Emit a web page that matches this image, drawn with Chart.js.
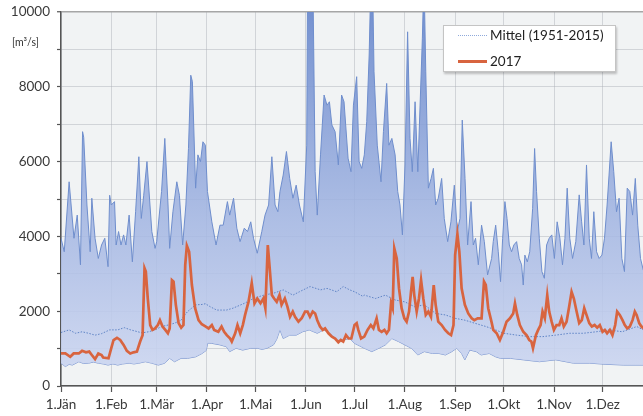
<!DOCTYPE html>
<html lang="de">
<head>
<meta charset="utf-8">
<title>Abfluss 2017</title>
<script src="https://cdn.jsdelivr.net/npm/chart.js@4"></script>
<style>
  html, body { margin: 0; padding: 0; background: #fff; overflow: hidden; }
  #wrap { position: relative; width: 660px; height: 416px; }
  #unit { position: absolute; left: 12px; top: 36px; font: 10.5px Lato, sans-serif; color: #333; }
  #legend { position: absolute; left: 443px; top: 25px; width: 171px; height: 45px; background: #fff;
            border: 1px solid #c4c4c4; box-shadow: 1px 2px 2px rgba(0,0,0,0.22);
            font: 13.5px Lato, sans-serif; color: #222; }
  .row { position: absolute; left: 14px; height: 18px; display: flex; align-items: center; }
  .sample { width: 29px; margin-right: 3px; }
</style>
</head>
<body>
<div id="wrap">
  <canvas id="c" width="660" height="416"></canvas>
  <div id="unit">[m³/s]</div>
  <div id="legend">
    <div class="row" style="top:0px"><span class="sample" style="border-top:1.5px dotted #8fa9db"></span>Mittel (1951-2015)</div>
    <div class="row" style="top:26px"><span class="sample" style="border-top:3px solid #d8643f"></span>2017</div>
  </div>
</div>
<script>
// Tagesabfluss in m³/s; x = Tag des Jahres (0 = 1. Jänner)
const monthStarts = [0, 31, 59, 90, 120, 151, 181, 212, 243, 273, 304, 334];
const monthLabels = ['1.Jän', '1.Feb', '1.Mär', '1.Apr', '1.Mai', '1.Jun', '1.Jul', '1.Aug', '1.Sep', '1.Okt', '1.Nov', '1.Dez'];

// Höchstwerte 1951-2015
const flowMax = [
  [0,3950],[2,3590],[5,5460],[8,3950],[10,4570],[12,3240],[13.3,6800],[14,6650],[16,4840],[18,3590],[19,5020],
  [21,3950],[23,3410],[25,3770],[27,3950],[29,3190],[30,5100],[31,4840],[33,4930],[34,3770],[35.5,4130],[37,3770],
  [38.6,4040],[40,3770],[42,4570],[44,3320],[46,4660],[48,6130],[49.5,4480],[51,5100],[53,6000],[56,4130],[58,3680],
  [59,3860],[62,5200],[64,6620],[66,4840],[67,3680],[69,4660],[71.4,5460],[73,5100],[75,3770],[77,4840],[78.6,6350],
  [80,8310],[81,8140],[83,5290],[84.4,6180],[86,6000],[87.5,6530],[89,6440],[90.3,5200],[93,4390],[95.6,3770],
  [98,4300],[100,4300],[102.6,4930],[104,4570],[106.4,5020],[108.4,4220],[110.4,3860],[113,4220],[115,4130],
  [117,4390],[118.7,3950],[121,3550],[123.8,4130],[125.8,4570],[128,4840],[130,6130],[132,4840],[133.7,4660],
  [135,5200],[137,5640],[139,6270],[141,5550],[143,5020],[145,5370],[147,4840],[149.4,4390],[151.5,6440],
  [152,10500],[153,14000],[154,15000],[155,12000],[156.7,5730],[158,4570],[160,6180],[162.2,7780],[164,7510],
  [165.5,7600],[167,6980],[169,6800],[171,5910],[173,7780],[174.5,7600],[177,6090],[178.8,5730],[180.3,7510],
  [182.3,8270],[183.8,6000],[185.4,5820],[187,6180],[188.5,7070],[190,8850],[191,10800],[192,11200],[193,8400],
  [195,6440],[197.3,5460],[198.8,6800],[200.8,8090],[202.2,6440],[204,6620],[206,6180],[207.6,5200],[209,4840],
  [210.5,4040],[212.1,5910],[213.7,9470],[215.2,6620],[216.6,5730],[218.3,7600],[220,5730],[221.4,7510],
  [222.8,9300],[223.8,11000],[224.9,8400],[226.5,5290],[228.2,5550],[229.6,5820],[231,4840],[232.6,5020],
  [234.7,5550],[236.3,4480],[238.4,3860],[240.4,4390],[242.5,5370],[244.3,4130],[246,4480],[247.4,7110],
  [249.1,5550],[250.7,3770],[252.8,4930],[254.2,3770],[255.6,3950],[257.3,3240],[259.3,4300],[261,3860],
  [263,2970],[265.5,3410],[266.5,3860],[268,4300],[269.6,3590],[271,2790],[272.3,3950],[273.7,4930],[275,4480],
  [276.4,3770],[277.8,3590],[279.2,3770],[280.9,3860],[282.5,3410],[284,3240],[285,2700],[286,3500],[287.5,3320],
  [289,3590],[290.8,4750],[292,6350],[293.2,5200],[294.9,3950],[296.5,3060],[298,2880],[299.4,3770],[301,3950],
  [302.6,4040],[304.2,3410],[305.9,4390],[307.6,3950],[309.2,3240],[310.7,3950],[312.1,5290],[313.7,3950],
  [315.4,3410],[317.4,3860],[319.5,5110],[321,4390],[322.4,3770],[324,5910],[325.7,3950],[327.1,3410],
  [328.5,4660],[330.2,3590],[331.8,3410],[333.5,3500],[335.1,3950],[336.7,4840],[337.9,5640],[339.2,6530],
  [340.8,5730],[342.5,4660],[344.1,5020],[345.8,3410],[347.4,3060],[349.1,5290],[350.7,5200],[352.4,4570],
  [354.1,5550],[355.6,4300],[357.3,3410],[359,3100]
];

// Tiefstwerte 1951-2015
const flowMin = [
  [0,610],[2.7,520],[5,580],[7,560],[11,650],[14,600],[17,610],[20,640],[23,610],[26,590],[29,560],[32,590],
  [35,560],[38,590],[42,610],[45,590],[48,610],[52,650],[56,610],[60,560],[64,610],[67,740],[70,650],[74,740],
  [78,740],[83,780],[87,870],[89.5,950],[90.5,1150],[93,1140],[98,1100],[102,1050],[104,920],[108,1010],
  [112,960],[117,1010],[121,1010],[124,980],[127,1010],[131,1100],[133,1250],[135,1500],[137,1270],[141,1360],
  [145,1360],[149,1450],[153,1500],[158,1410],[162,1500],[166,1410],[170,1230],[174,1230],[178,1270],[181,1140],
  [187,1010],[191.6,920],[196,1010],[200,1100],[204,1270],[208,1190],[212,1100],[216,1010],[220,830],[224,920],
  [229,870],[233,870],[237,830],[241,920],[244,1010],[247,870],[249,700],[252,960],[256,920],[259,830],
  [264,870],[268,780],[271,740],[277,740],[285,700],[295,650],[305,700],[316,610],[326,610],[336,580],
  [347,560],[359,560]
];

// Mittel 1951-2015
const flowMean = [
  [0,1430],[5,1500],[9,1410],[13,1450],[17,1410],[21,1360],[25,1400],[30,1500],[35,1500],[39,1560],[43,1500],
  [50,1420],[54,1450],[58,1500],[62,1590],[66,1630],[70,1680],[74,1760],[78,1990],[83,2170],[87,2180],[89,2200],
  [92,2120],[96,2030],[102,2030],[106,2080],[113,2210],[118.7,2340],[125,2430],[131,2480],[137,2570],[143,2430],
  [147,2520],[153.6,2660],[160,2570],[164,2610],[170,2520],[174,2660],[178,2570],[181,2520],[186,2400],
  [187,2430],[194,2340],[200,2430],[206,2300],[212,2250],[218,2120],[224,2170],[231,1940],[237,1900],
  [243,1810],[249,1760],[255,1680],[262,1590],[268,1500],[273,1410],[281,1360],[289,1320],[297,1320],
  [305,1360],[313.7,1410],[322,1410],[330,1450],[338,1500],[346,1450],[355,1590],[359,1500]
];

// Abfluss 2017
const flow2017 = [
  [0,870],[2.7,870],[5.7,780],[7.8,870],[11,870],[13,940],[15.4,900],[17.4,920],[19,830],[21,720],[23,870],
  [25,830],[26,760],[29.3,740],[31,1010],[32.4,1230],[34.5,1290],[36.5,1230],[38.6,1100],[40.6,940],[42.7,870],
  [44.7,900],[46.8,920],[48.8,1190],[50.3,1360],[51.5,3150],[52.3,3060],[53.5,2340],[55,1630],[56.4,1500],
  [58,1540],[59.7,1630],[61,1760],[62.6,1590],[64.3,1500],[65.9,1410],[67,1540],[68.4,2830],[69.4,2790],
  [70.8,2170],[72.5,1680],[74.1,1560],[75.5,1630],[76.6,3240],[77.6,3750],[79,3590],[80.7,2700],[82.7,2080],
  [84.8,1760],[86.8,1650],[88.8,1600],[91,1540],[93,1630],[94.4,1500],[97,1450],[99,1590],[100.6,1450],
  [102.2,1360],[104.3,1270],[105.3,1190],[107.4,1410],[108.8,1630],[110.5,1410],[112.1,1630],[113.5,1900],
  [115.6,2250],[117.6,2750],[119.3,2210],[121,2340],[123,2210],[124.8,2340],[126,2080],[127.5,3770],
  [128.5,3240],[130,2430],[131.4,2340],[133,2250],[134.7,2430],[136,2170],[138,2340],[139.6,2120],[141.2,1850],
  [142.9,1990],[144.3,1850],[146.4,1720],[148.4,1810],[150.5,1990],[152,1990],[153.5,1850],[155.2,1990],
  [156.7,1940],[158,1760],[159.7,1590],[161.4,1500],[162.8,1540],[164.9,1410],[167,1320],[169,1270],[171,1170],
  [172.5,1230],[174,1190],[175.7,1360],[177.4,1270],[179,1270],[181,1630],[182.3,1680],[183.3,1500],[185,1270],
  [187,1320],[189,1500],[191,1630],[192.6,1540],[194.6,1810],[196,1500],[197.7,1450],[199.4,1500],[200.8,1410],
  [202.2,1500],[203.5,2210],[204.5,2080],[205.5,3680],[207,3410],[208.4,2610],[210,2080],[211.7,1810],
  [213.1,1720],[214.6,1990],[215.8,2520],[216.8,2920],[217.8,2430],[219.3,1990],[220.7,2340],[222,2830],
  [223.4,2340],[224.9,1900],[226.5,1990],[228.1,1850],[229.8,2700],[231,2170],[232.6,1720],[234.7,1630],
  [236.8,1500],[238.8,1410],[240.5,1360],[242,1630],[243,3500],[244.4,4060],[245.6,3590],[247,2610],[249,2170],
  [251.1,1940],[253.2,1810],[254.8,1760],[256.9,1810],[259.3,1810],[260.8,2790],[261.9,2700],[263.4,2080],
  [265.5,1700],[266.5,1500],[268.6,1410],[270.6,1230],[272.7,1450],[274.7,1720],[276.8,1810],[278.8,1940],
  [279.9,2210],[281.3,1900],[282.9,1630],[285,1450],[287,1360],[288.7,1230],[290,1190],[291,1010],[292.8,1360],
  [294.2,1500],[295.7,1630],[296.9,1990],[298.3,1810],[299.8,2430],[301,1990],[302.5,1720],[303.9,1500],
  [305.5,1630],[307.2,1630],[308.6,1810],[310,1590],[311.7,1720],[313.3,2120],[314.8,2520],[316.2,2340],
  [317.9,1990],[319.5,1680],[321.1,1760],[322.6,2080],[324,1900],[325.7,1680],[327.3,1590],[329,1630],
  [330.6,1560],[332.2,1630],[333.9,1450],[335.3,1500],[336.7,1410],[338.4,1500],[340,1360],[341.7,1630],
  [342.9,1990],[344.5,1900],[346.2,1760],[347.6,1630],[349.1,1540],[350.7,1590],[352.4,1760],[353.8,1990],
  [354.9,1900],[356.5,1680],[357.9,1590],[359,1540]
];

const yTicks = [0, 2000, 4000, 6000, 8000, 10000];

const toXY = arr => arr.map(([x, y]) => ({ x, y }));

Chart.defaults.font.family = 'Lato, sans-serif';
Chart.defaults.font.size = 13.5;
Chart.defaults.color = '#3a3a3a';

// Plot background
const plotBackground = {
  id: 'plotBackground',
  beforeDraw(chart) {
    const { ctx, chartArea: a } = chart;
    ctx.save();
    ctx.fillStyle = '#f1f3f4';
    ctx.fillRect(a.left, a.top, a.right - a.left, a.bottom - a.top);
    ctx.restore();
  }
};

function bandGradient(context) {
  const { ctx, chartArea } = context.chart;
  if (!chartArea) return 'rgba(150,170,220,0.8)';
  const g = ctx.createLinearGradient(0, chartArea.top, 0, chartArea.bottom);
  g.addColorStop(0, 'rgba(104,135,204,0.9)');
  g.addColorStop(0.55, 'rgba(162,181,226,0.86)');
  g.addColorStop(1, 'rgba(208,217,242,0.9)');
  return g;
}

new Chart(document.getElementById('c'), {
  type: 'line',
  data: {
    datasets: [
      { label: '2017', data: toXY(flow2017), borderColor: '#d8643f', borderWidth: 2.7, pointRadius: 0, tension: 0, fill: false },
      { label: 'Mittel (1951-2015)', data: toXY(flowMean), borderColor: '#5f84c6', borderWidth: 1, borderDash: [1.5, 1.5], pointRadius: 0, fill: false },
      { label: 'Maximum', data: toXY(flowMax), borderColor: '#6f8ecd', borderWidth: 1, pointRadius: 0, fill: '+1', backgroundColor: bandGradient },
      { label: 'Minimum', data: toXY(flowMin), borderColor: '#7a95cf', borderWidth: 1, pointRadius: 0, fill: false }
    ]
  },
  options: {
    responsive: false,
    animation: false,
    events: [],
    layout: { padding: { left: 0, right: 7, top: 12, bottom: 0 } },
    plugins: { legend: { display: false }, tooltip: { enabled: false } },
    scales: {
      x: {
        type: 'linear', min: 0, max: 365,
        afterBuildTicks(scale) { scale.ticks = monthStarts.map(v => ({ value: v })); },
        afterFit(scale) { scale.height = 30; },
        ticks: {
          autoSkip: false, maxRotation: 0, padding: 5, color: '#3a3a3a',
          callback(value) { const i = monthStarts.indexOf(value); return i >= 0 ? monthLabels[i] : ''; }
        },
        grid: { color: 'rgba(170,176,182,0.45)', tickLength: 6, tickColor: '#555', tickWidth: 1.2 },
        border: { display: true, color: '#555', width: 1.5 }
      },
      y: {
        min: 0, max: 10000,
        afterFit(scale) { scale.width = 61; scale.paddingTop = 0; scale.paddingBottom = 0; },
        ticks: {
          stepSize: 1000, padding: 7, color: '#3a3a3a',
          callback(value) { return yTicks.includes(value) ? String(value) : ''; }
        },
        grid: {
          color: ctx => ctx.tick && ctx.tick.value === 10000 ? '#a6a6a6' : 'rgba(170,176,182,0.45)',
          lineWidth: ctx => ctx.tick && ctx.tick.value === 10000 ? 1.5 : 1,
          tickLength: 4, tickColor: '#555', tickWidth: 1.2
        },
        border: { display: true, color: '#555', width: 1.5 }
      }
    }
  },
  plugins: [plotBackground]
});
</script>
</body>
</html>
